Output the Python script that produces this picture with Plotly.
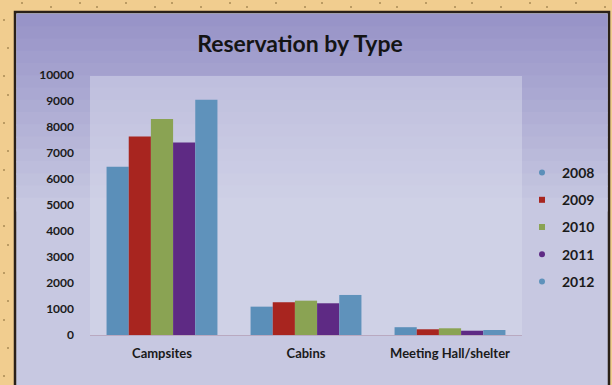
import plotly.graph_objects as go

categories = ["Campsites", "Cabins", "Meeting Hall/shelter"]
years = ["2008", "2009", "2010", "2011", "2012"]
values_2008 = [6470, 1090, 300]
values_2009 = [7630, 1260, 220]
values_2010 = [8310, 1320, 258]
values_2011 = [7400, 1220, 165]
values_2012 = [9050, 1540, 192]
series = [values_2008, values_2009, values_2010, values_2011, values_2012]
colors = ["#5b8fb9", "#a8251f", "#8aa353", "#5e2a84", "#5f92bb"]
legend_symbols = ["circle", "square", "square", "circle", "circle"]
y_ticks = [0, 1000, 2000, 3000, 4000, 5000, 6000, 7000, 8000, 9000, 10000]

W, H = 612, 385
FONT = "Lato, 'Open Sans', sans-serif"

fig = go.Figure()
for yr, vals, c in zip(years, series, colors):
    fig.add_trace(go.Bar(name=yr, x=categories, y=vals, marker_color=c,
                         marker_line_width=0, showlegend=False, legendgroup=yr))
# compact legend entries (small markers like the reference)
for yr, c, s in zip(years, colors, legend_symbols):
    fig.add_trace(go.Scatter(name="<b>%s</b>" % yr, x=[None], y=[None], mode="markers",
                             marker=dict(color=c, size=6, symbol=s),
                             legendgroup=yr, showlegend=True, hoverinfo="skip"))

def px_x(v):
    return v / W

def px_y(v):
    return 1 - v / H

shapes = []
# decorative speckles on the tan frame
for k in range(24):
    x = 22 + k * 25 + (k % 3) * 4
    y = 3 + (k % 2) * 4
    shapes.append(dict(type="circle", xref="paper", yref="paper", layer="below",
                       x0=px_x(x - 1), x1=px_x(x + 1), y0=px_y(y + 1), y1=px_y(y - 1),
                       fillcolor="#a98a55", line=dict(width=0)))
for k in range(15):
    y = 20 + k * 25 + (k % 3) * 3
    x = 4 + (k % 2) * 4
    shapes.append(dict(type="circle", xref="paper", yref="paper", layer="below",
                       x0=px_x(x - 1), x1=px_x(x + 1), y0=px_y(y + 1), y1=px_y(y - 1),
                       fillcolor="#a98a55", line=dict(width=0)))
# panel with dark border
shapes.append(dict(type="rect", xref="paper", yref="paper", layer="below",
                   x0=px_x(15), x1=px_x(609), y0=px_y(392), y1=px_y(12),
                   fillcolor="#c7c8e1", line=dict(color="#2a2018", width=2.5)))
# top gradient bands (lavender to light)
top, bot = 14, 210
n = 16
c0 = (152, 148, 200)
c1 = (199, 200, 225)
for i in range(n):
    t = i / (n - 1)
    col = tuple(int(c0[k] + (c1[k] - c0[k]) * t) for k in range(3))
    ya = top + (bot - top) * i / n
    yb = top + (bot - top) * (i + 1) / n + 1.5
    shapes.append(dict(type="rect", xref="paper", yref="paper", layer="below",
                       x0=px_x(16.5), x1=px_x(607.5), y0=px_y(yb), y1=px_y(ya),
                       fillcolor="rgb(%d,%d,%d)" % col, line=dict(width=0)))
# plot area lighter region
shapes.append(dict(type="rect", xref="paper", yref="paper", layer="below",
                   x0=px_x(90), x1=px_x(522), y0=px_y(336), y1=px_y(76),
                   fillcolor="rgba(215,218,236,0.5)", line=dict(width=0)))
# baseline
shapes.append(dict(type="line", xref="paper", yref="paper",
                   x0=px_x(90), x1=px_x(522), y0=px_y(335.5), y1=px_y(335.5),
                   line=dict(color="#b9a9c0", width=1)))

fig.update_layout(
    width=W, height=H,
    margin=dict(l=0, r=0, t=0, b=0, autoexpand=False),
    paper_bgcolor="#f1cd8f",
    plot_bgcolor="rgba(0,0,0,0)",
    barmode="group",
    bargap=0.23,
    bargroupgap=0,
    shapes=shapes,
    font=dict(family=FONT, color="#1a1a1a"),
    title=dict(text="<b>Reservation by Type</b>", x=px_x(300), xanchor="center",
               y=px_y(44), yanchor="middle", yref="paper",
               font=dict(size=23, family=FONT, color="#141414")),
    xaxis=dict(domain=[px_x(90), px_x(522)], showgrid=False, zeroline=False,
               showline=False, ticks="", automargin=False,
               tickvals=categories, ticktext=["<b>%s</b>" % c for c in categories],
               tickfont=dict(size=13, family=FONT, color="#1a1a1a"),
               ticklabelstandoff=9),
    yaxis=dict(domain=[px_y(335), px_y(75)], range=[0, 10000], automargin=False,
               tickvals=y_ticks, ticktext=["<b>%d</b>" % v for v in y_ticks],
               showgrid=False, zeroline=False, showline=False, ticks="",
               tickfont=dict(size=12, family=FONT, color="#1a1a1a"),
               ticklabelstandoff=15),
    legend=dict(x=px_x(522), y=px_y(157), xanchor="left", yanchor="top",
                bgcolor="rgba(0,0,0,0)", font=dict(size=14, family=FONT, color="#1a1a1a"),
                itemwidth=30, tracegroupgap=6, traceorder="grouped",
                borderwidth=0),
    showlegend=True,
)

fig.write_html("out.html", config={"displayModeBar": False},
               post_script="document.body.style.margin='0';document.body.style.overflow='hidden';")
